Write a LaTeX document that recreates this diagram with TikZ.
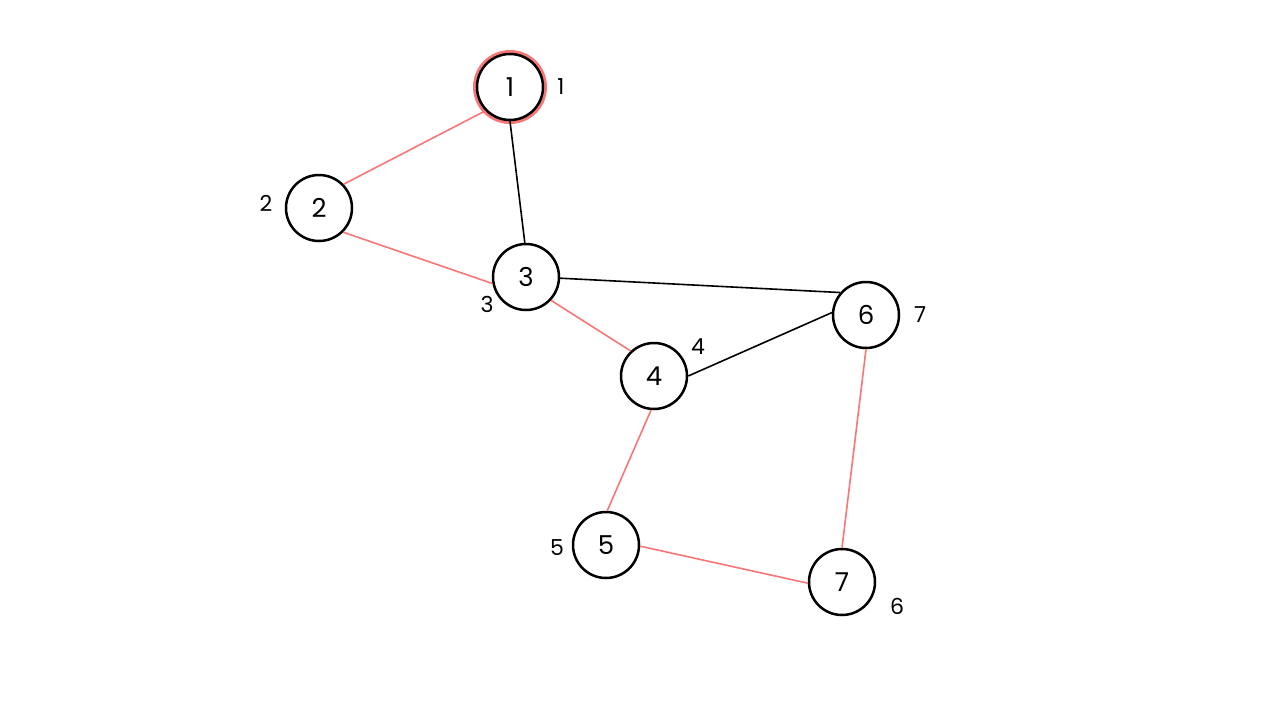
\documentclass[tikz,border=0pt]{standalone}
\usepackage{fontspec}
\setmainfont{Poppins}
\definecolor{edgered}{RGB}{248,118,118}
\begin{document}
\begin{tikzpicture}[x=1pt,y=-1pt,
  vert/.style={circle,draw=black,line width=2.5pt,fill=white,minimum size=66pt,inner sep=0pt,font=\fontsize{26}{28}\selectfont},
  lab/.style={font=\fontsize{22}{24}\selectfont,inner sep=0pt},
  redge/.style={draw=edgered,line width=1.6pt},
  bedge/.style={draw=black,line width=1.6pt}]
\useasboundingbox (0,0) rectangle (1280,720);
\coordinate (c1) at (510,87);
\fill[edgered] (c1) circle (37);
\node[vert] (n1) at (c1) {1};
\node[vert] (n2) at (319,208) {2};
\node[vert] (n3) at (526,277) {3};
\node[vert] (n4) at (654,376) {4};
\node[vert] (n5) at (606,545) {5};
\node[vert] (n6) at (866,315) {6};
\node[vert] (n7) at (842,582) {7};
\node[lab] (l1) at (561,87) {1};
\node[lab] (l2) at (266,203) {2};
\node[lab] (l3) at (487,304) {3};
\node[lab] (l4) at (698,347) {4};
\node[lab] (l7) at (920,315) {7};
\node[lab] (l5) at (557,548) {5};
\node[lab] (l6) at (897,606) {6};
\draw[redge] (n1.224) -- (n2.44);
\draw[redge] (n2.315) -- (n3.191);
\draw[redge] (n3.317) -- (n4.133);
\draw[redge] (n4.265) -- (n5.88);
\draw[redge] (n5.358) -- (n7.182);
\draw[redge] (n6.270) -- (n7.90);
\draw[bedge] (n1.270) -- (n3.92);
\draw[bedge] (n3.358) -- (n6.139);
\draw[bedge] (n4.0) -- (n6.176);
\end{tikzpicture}
\end{document}
